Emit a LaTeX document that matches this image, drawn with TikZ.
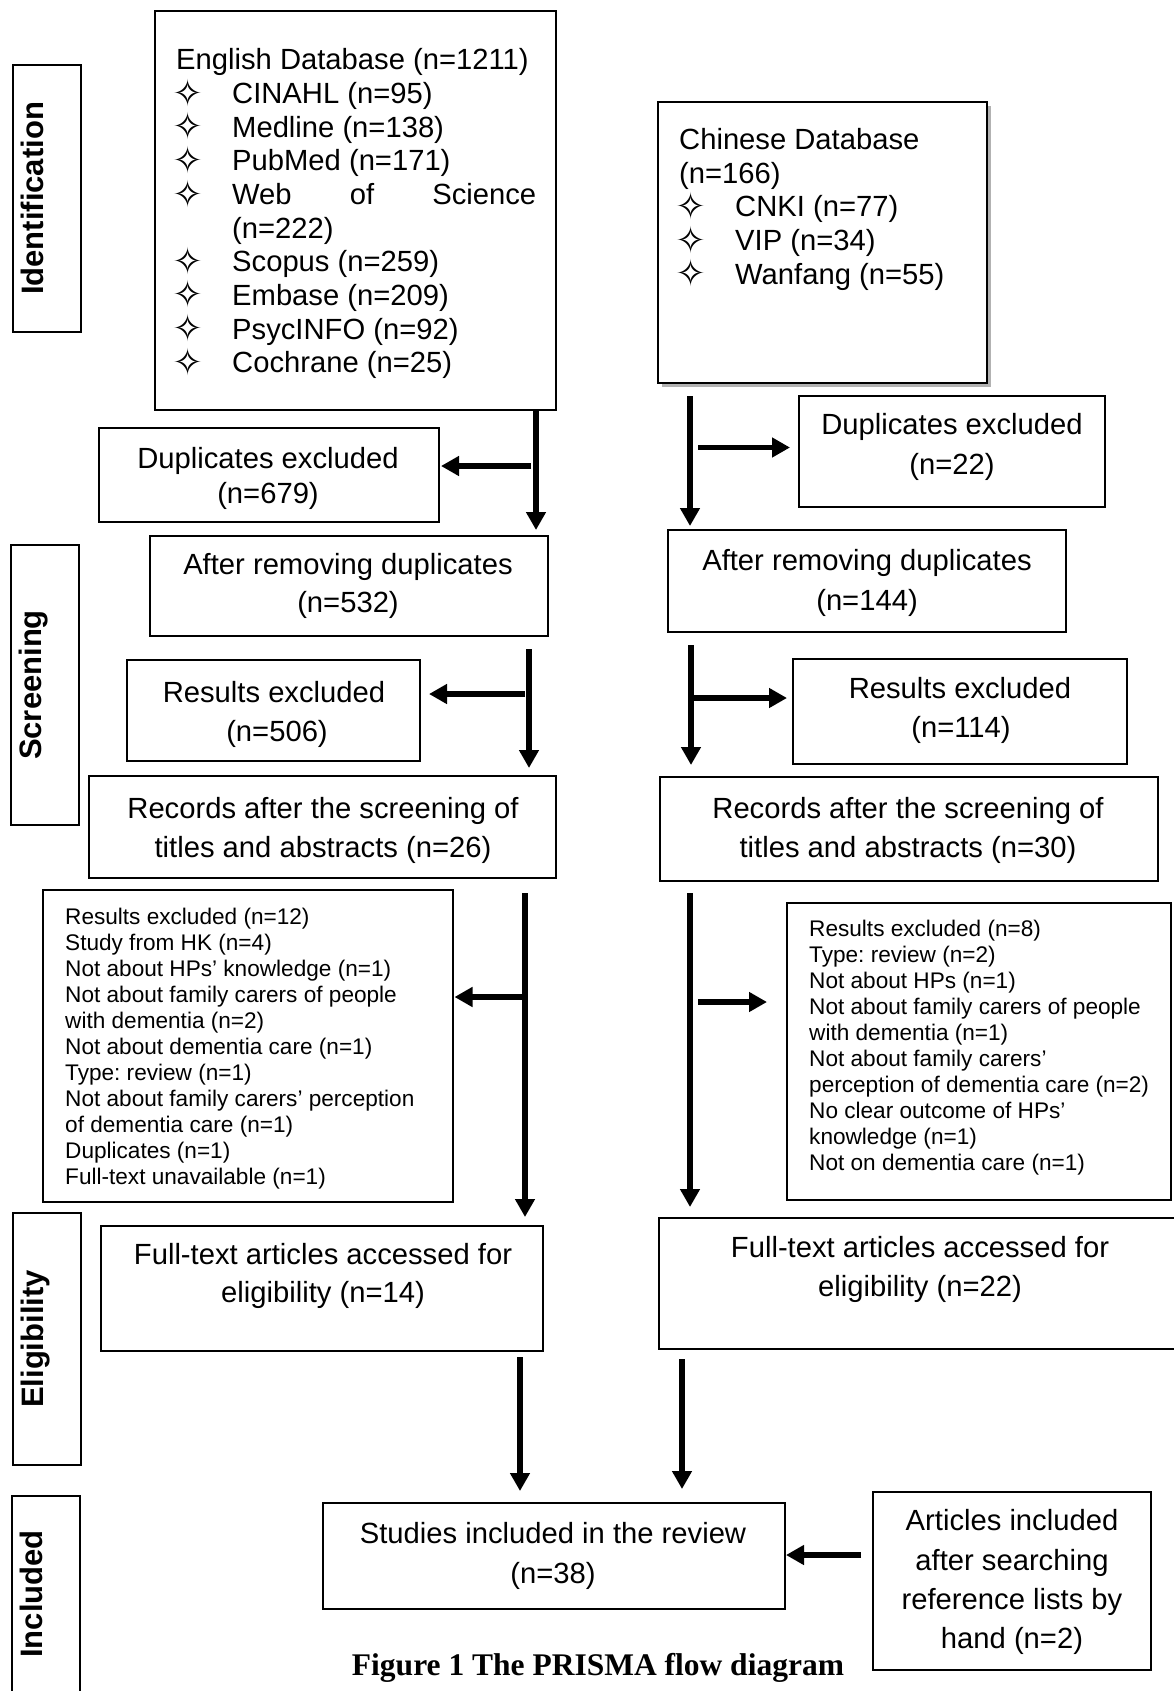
\documentclass[tikz,border=0pt]{standalone}
\usepackage{fontspec}
\setmainfont{Liberation Sans}
\newfontfamily\capfont{Liberation Serif}
\newfontfamily\symfont{DejaVu Sans}
\usetikzlibrary{arrows.meta,shadows}
\newcommand\bul{\makebox[56pt][l]{\hspace*{-4pt}\smash{\raisebox{-2.5pt}{\symfont\fontsize{37}{37}\selectfont ✧}}}}
\frenchspacing
\begin{document}
\frenchspacing
\begin{tikzpicture}[x=1pt,y=-1pt,
  box/.style={draw, line width=2.2pt, inner sep=0pt, outer sep=0pt, fill=white},
  big/.style={font=\frenchspacing\fontsize{29.2}{34}\selectfont, inner sep=0pt},
  small/.style={font=\frenchspacing\fontsize{22.6}{26}\selectfont, inner sep=0pt},
  lab/.style={font=\bfseries\fontsize{31}{36}\selectfont, inner sep=0pt, rotate=90, anchor=base},
  arr/.style={line width=5.5pt, -{Triangle[length=18pt,width=19pt]}},
]
\useasboundingbox (0,0) rectangle (1173,1691);

% stage labels
\node[box, minimum width=68pt, minimum height=267pt] (idbox) at (47,198.5) {};
\node[lab] (idlab) at (43,198.5) {Identification};
\node[box, minimum width=68pt, minimum height=280pt] (scbox) at (45,685) {};
\node[lab] (sclab) at (41.5,685) {Screening};
\node[box, minimum width=68pt, minimum height=252pt] (elbox) at (47,1339) {};
\node[lab] (ellab) at (43,1339) {Eligibility};
\draw[line width=2.2pt] (12,1700) -- (12,1496) -- (80,1496) -- (80,1700);
\node[lab] (inlab) at (42,1594) {Included};

% boxes
\node[box, minimum width=401pt, minimum height=399pt] (eng) at (355.5,210.5) {};
\node[box, minimum width=329pt, minimum height=281pt,
  drop shadow={shadow xshift=4pt,shadow yshift=-4pt,fill=black!30,opacity=1}] (chn) at (822.5,242.5) {};
\node[box, minimum width=340pt, minimum height=94pt] (dupL) at (269,475) {};
\node[box, minimum width=306pt, minimum height=111pt] (dupR) at (952,451.5) {};
\node[box, minimum width=398pt, minimum height=100pt] (aftL) at (349,586) {};
\node[box, minimum width=398pt, minimum height=102pt] (aftR) at (867,581) {};
\node[box, minimum width=293pt, minimum height=101pt] (resL) at (273.5,710.5) {};
\node[box, minimum width=334pt, minimum height=105pt] (resR) at (960,711.5) {};
\node[box, minimum width=467pt, minimum height=102pt] (recL) at (322.5,827) {};
\node[box, minimum width=498pt, minimum height=104pt] (recR) at (909,829) {};
\node[box, minimum width=410pt, minimum height=312pt] (exL) at (248,1046) {};
\node[box, minimum width=384pt, minimum height=297pt] (exR) at (979,1051.5) {};
\node[box, minimum width=442pt, minimum height=125pt] (ftL) at (322,1288.5) {};
\node[box, minimum width=523pt, minimum height=131pt] (ftR) at (920.5,1283.5) {};
\node[box, minimum width=462pt, minimum height=106pt] (stud) at (554,1556) {};
\node[box, minimum width=278pt, minimum height=178pt] (art) at (1012,1581) {};

% database lists
\foreach \t [count=\i from 0] in {{English Database (n=1211)},{\bul CINAHL (n=95)},{\bul Medline (n=138)},{\bul PubMed (n=171)},{\bul\makebox[304pt][s]{Web of Science}},{\hspace*{56pt}(n=222)},{\bul Scopus (n=259)},{\bul Embase (n=209)},{\bul PsycINFO (n=92)},{\bul Cochrane (n=25)}}
  \node[big, anchor=base west] (eng-\i) at (176,{70+33.64*\i}) {\t};
\foreach \t [count=\i from 0] in {{Chinese Database},{(n=166)},{\bul CNKI (n=77)},{\bul VIP (n=34)},{\bul Wanfang (n=55)}}
  \node[big, anchor=base west] (chn-\i) at (679,{149.5+33.7*\i}) {\t};

% centred texts
\node[big, anchor=base] (dupL-1) at (268,468.5) {Duplicates excluded};
\node[big, anchor=base] (dupL-2) at (268,503) {(n=679)};
\node[big, anchor=base] (dupR-1) at (952,434.5) {Duplicates excluded};
\node[big, anchor=base] (dupR-2) at (952,474) {(n=22)};
\node[big, anchor=base] (aftL-1) at (348,574.5) {After removing duplicates};
\node[big, anchor=base] (aftL-2) at (348,612) {(n=532)};
\node[big, anchor=base] (aftR-1) at (867,570.5) {After removing duplicates};
\node[big, anchor=base] (aftR-2) at (867,610) {(n=144)};
\node[big, anchor=base] (resL-1) at (274,702.5) {Results excluded};
\node[big, anchor=base] (resL-2) at (277,741.5) {(n=506)};
\node[big, anchor=base] (resR-1) at (960,698.5) {Results excluded};
\node[big, anchor=base] (resR-2) at (961,737.5) {(n=114)};
\node[big, anchor=base] (recL-1) at (323,818) {Records after the screening of};
\node[big, anchor=base] (recL-2) at (323,857) {titles and abstracts (n=26)};
\node[big, anchor=base] (recR-1) at (908,818) {Records after the screening of};
\node[big, anchor=base] (recR-2) at (908,857) {titles and abstracts (n=30)};
\node[big, anchor=base] (ftL-1) at (323,1264) {Full-text articles accessed for};
\node[big, anchor=base] (ftL-2) at (323,1302) {eligibility (n=14)};
\node[big, anchor=base] (ftR-1) at (920,1257.5) {Full-text articles accessed for};
\node[big, anchor=base] (ftR-2) at (920,1296.5) {eligibility (n=22)};
\node[big, anchor=base] (stud-1) at (553,1543) {Studies included in the review};
\node[big, anchor=base] (stud-2) at (553,1583) {(n=38)};
\node[big, anchor=base] (art-1) at (1012,1530) {Articles included};
\node[big, anchor=base] (art-2) at (1012,1570) {after searching};
\node[big, anchor=base] (art-3) at (1012,1609) {reference lists by};
\node[big, anchor=base] (art-4) at (1012,1648) {hand (n=2)};

% exclusion lists
\foreach \t [count=\i from 0] in {{Results excluded (n=12)},{Study from HK (n=4)},{Not about HPs’ knowledge (n=1)},{Not about family carers of people},{with dementia (n=2)},{Not about dementia care (n=1)},{Type: review (n=1)},{Not about family carers’ perception},{of dementia care (n=1)},{Duplicates (n=1)},{Full-text unavailable (n=1)}}
  \node[small, anchor=base west] (exL-\i) at (65,{924.5+25.97*\i}) {\t};
\foreach \t [count=\i from 0] in {{Results excluded (n=8)},{Type: review (n=2)},{Not about HPs (n=1)},{Not about family carers of people},{with dementia (n=1)},{Not about family carers’},{perception of dementia care (n=2)},{No clear outcome of HPs’},{knowledge (n=1)},{Not on dementia care (n=1)}}
  \node[small, anchor=base west] (exR-\i) at (809,{936+26.1*\i}) {\t};

% arrow start points
\coordinate (a1s) at (536,410);
\coordinate (a1h) at (531,466);
\coordinate (a2s) at (529,649);
\coordinate (a2h) at (525,694);
\coordinate (a3s) at (525,893);
\coordinate (a3h) at (525,997);
\coordinate (a4s) at (520,1357);
\coordinate (b1s) at (690,396);
\coordinate (b1h) at (698,447.5);
\coordinate (b2s) at (691,645);
\coordinate (b2h) at (693,698);
\coordinate (b3s) at (690,893);
\coordinate (b3h) at (698,1002);
\coordinate (b4s) at (682,1359);
\coordinate (cs) at (861,1555);

% arrows
\draw[arr] (a1s) -- ([yshift=6pt]a1s |- aftL.north);
\draw[arr] (a1h) -- ([xshift=2pt]dupL.east |- a1h);
\draw[arr] (a2s) -- ([yshift=8pt]a2s |- recL.north);
\draw[arr] (a2h) -- ([xshift=9pt]resL.east |- a2h);
\draw[arr] (a3s) -- ([yshift=9pt]a3s |- ftL.north);
\draw[arr] (a3h) -- ([xshift=1.5pt]exL.east |- a3h);
\draw[arr] (a4s) -- ([yshift=12pt]a4s |- stud.north);
\draw[arr] (b1s) -- ([yshift=4pt]b1s |- aftR.north);
\draw[arr] (b1h) -- ([xshift=-9pt]dupR.west |- b1h);
\draw[arr] (b2s) -- ([yshift=12pt]b2s |- recR.north);
\draw[arr] (b2h) -- ([xshift=-6pt]resR.west |- b2h);
\draw[arr] (b3s) -- ([yshift=11pt]b3s |- ftR.north);
\draw[arr] (b3h) -- ([xshift=-20pt]exR.west |- b3h);
\draw[arr] (b4s) -- ([yshift=14pt]b4s |- stud.north);
\draw[arr] (cs) -- ([xshift=1pt]stud.east |- cs);

% caption
\node[font=\capfont\bfseries\fontsize{31.5}{36}\selectfont, anchor=base, inner sep=0pt] (cap) at (598,1675) {Figure 1 The PRISMA flow diagram};
\end{tikzpicture}
\end{document}
